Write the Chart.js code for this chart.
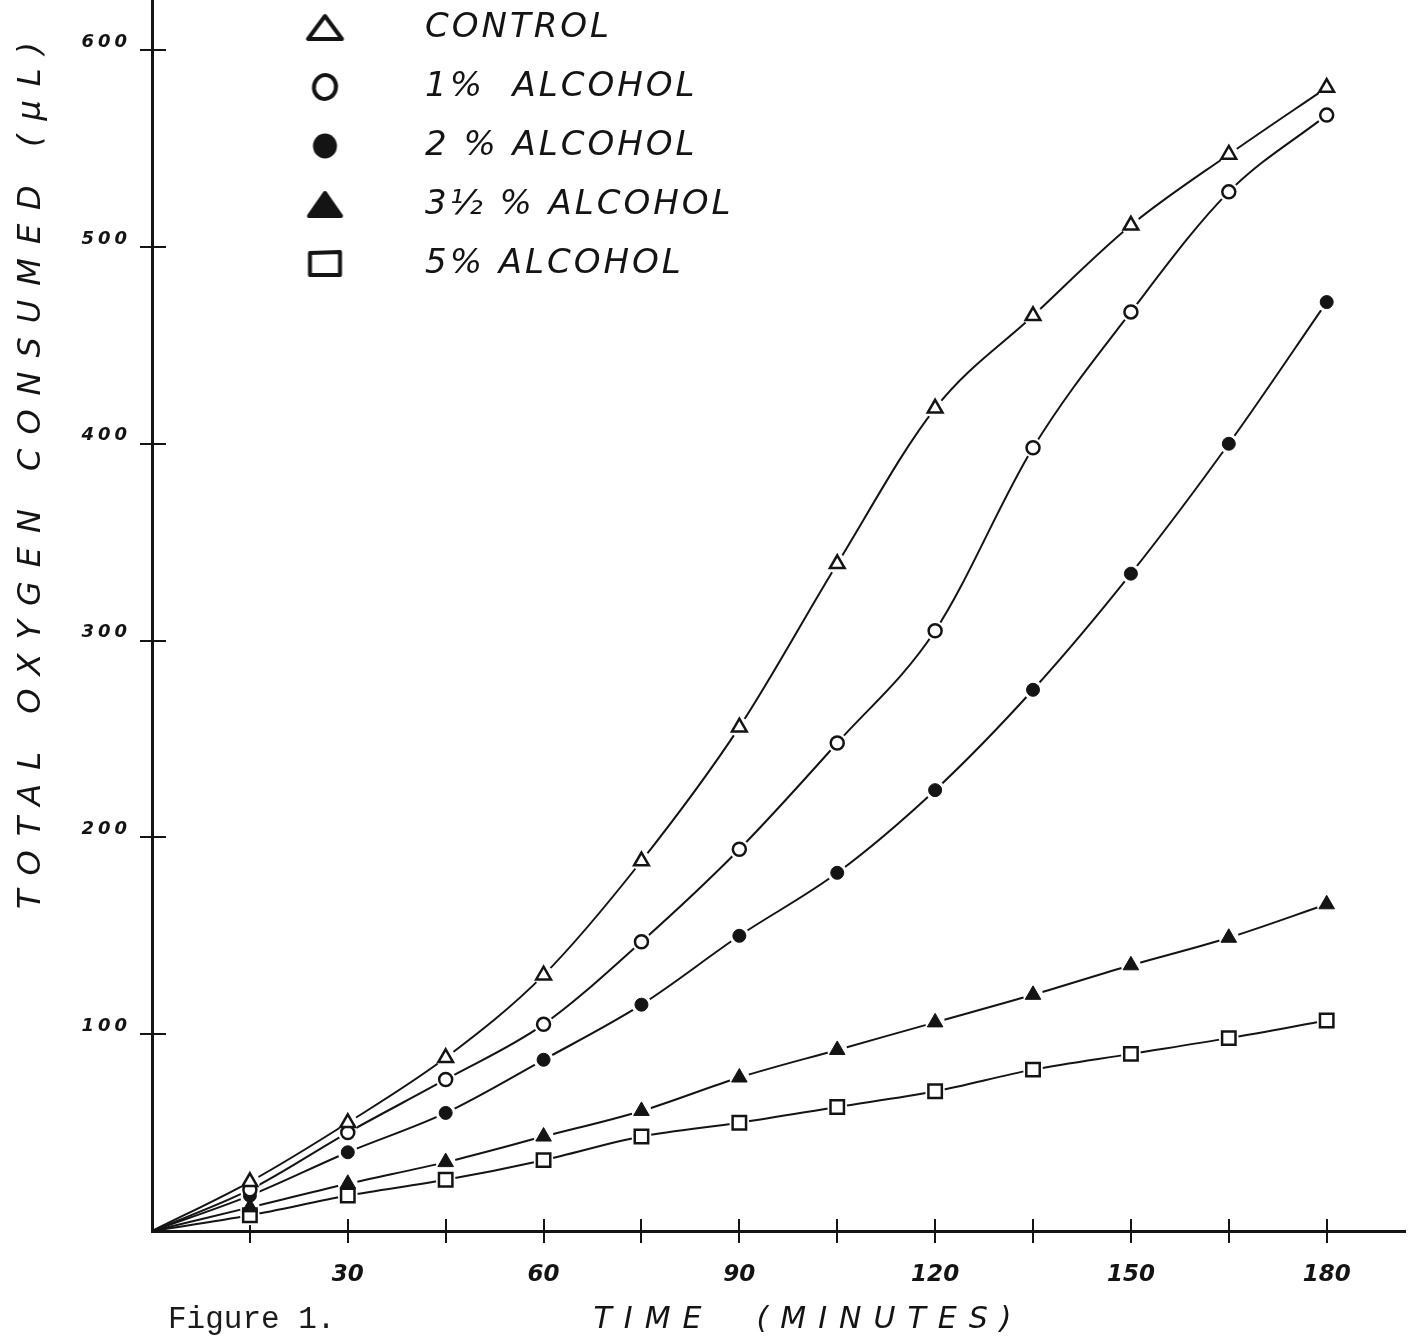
<!DOCTYPE html>
<html><head><meta charset="utf-8">
<script src="https://cdn.jsdelivr.net/npm/chart.js@4.4.1/dist/chart.umd.min.js"></script>
<style>
html,body{margin:0;padding:0;background:#fff;overflow:hidden;width:1415px;height:1340px;}
#wrap{position:relative;width:1415px;height:1340px;overflow:hidden;background:#fff;}
#c{position:absolute;left:0;top:-14px;}
#fig{position:absolute;left:168px;top:1303px;font-family:'Liberation Mono',monospace;font-size:31px;line-height:34px;color:#1a1a1a;white-space:pre;}
</style></head><body>
<div id="wrap"><canvas id="c" width="1415" height="1354"></canvas><div id="fig">Figure 1.</div></div>
<script>
// ---- data ----
const timeMinutes   = [0, 15, 30, 45, 60, 75, 90, 105, 120, 135, 150, 165, 180];
const control       = [0, 25, 55, 88, 130, 188, 256, 339, 418, 465, 511, 547, 581];
const alcohol1      = [0, 21, 50, 77, 105, 147, 194, 248, 305, 398, 467, 528, 567];
const alcohol2      = [0, 18, 40, 60, 87, 115, 150, 182, 224, 275, 334, 400, 472];
const alcohol3half  = [0, 12, 24, 35, 48, 61, 78, 92, 106, 120, 135, 149, 166];
const alcohol5      = [0, 8, 18, 26, 36, 48, 55, 63, 71, 82, 90, 98, 107];
const seriesLabels  = ['CONTROL', '1%  ALCOHOL', '2 % ALCOHOL', '3½ % ALCOHOL', '5% ALCOHOL'];
const yTickValues   = [100, 200, 300, 400, 500, 600];
const xTickMarks    = [15, 30, 45, 60, 75, 90, 105, 120, 135, 150, 165, 180];
const xTickLabels   = [30, 60, 90, 120, 150, 180];
const yTitle = 'TOTAL OXYGEN CONSUMED (μL)';
const xTitle = 'TIME  (MINUTES)';

const INK = '#141414';
const seriesData = [control, alcohol1, alcohol2, alcohol3half, alcohol5];
const markerStyle = [
  {style: 'triangle', r: 8.5, filled: false},
  {style: 'circle',   r: 6.5, filled: false},
  {style: 'circle',   r: 6.5, filled: true},
  {style: 'triangle', r: 9,   filled: true},
  {style: 'rect',     r: 9.5, filled: false}
];

const toXY = arr => arr.map((v, i) => ({x: timeMinutes[i], y: v}));

const datasets = [];
seriesData.forEach((arr, k) => {
  datasets.push({
    label: seriesLabels[k] + ' line',
    data: toXY(arr),
    borderColor: INK, borderWidth: 2, fill: false,
    cubicInterpolationMode: 'monotone',
    pointRadius: arr.map((v, i) => i === 0 ? 0 : 10),
    pointBackgroundColor: '#ffffff', pointBorderWidth: 0, pointBorderColor: 'rgba(0,0,0,0)',
    pointHoverRadius: 0, order: 2
  });
});
seriesData.forEach((arr, k) => {
  const m = markerStyle[k];
  datasets.push({
    label: seriesLabels[k],
    data: toXY(arr),
    showLine: false,
    pointStyle: m.style,
    pointRadius: arr.map((v, i) => i === 0 ? 0 : m.r),
    pointBackgroundColor: m.filled ? INK : '#ffffff',
    pointBorderColor: INK,
    pointBorderWidth: m.filled ? 1 : 2.5,
    pointHoverRadius: 0, order: 1
  });
});

// legend marker images (marker drawn offset to the right inside the image)
function legendMarker(k) {
  const c = document.createElement('canvas');
  c.width = 120; c.height = 50;
  const g = c.getContext('2d');
  const cx = 60 + 32.5, cy = 25;
  g.strokeStyle = INK; g.fillStyle = INK; g.lineWidth = 4; g.lineJoin = 'round'; g.lineCap = 'round';
  g.beginPath();
  if (k === 0) {
    g.moveTo(cx - 17, cy + 11); g.lineTo(cx + 17, cy + 11); g.lineTo(cx, cy - 12); g.closePath(); g.stroke();
  } else if (k === 1) {
    g.ellipse(cx, cy, 11, 12, 0.25, 0, Math.PI * 2); g.stroke();
  } else if (k === 2) {
    g.ellipse(cx, cy, 12, 12.5, 0, 0, Math.PI * 2); g.fill();
  } else if (k === 3) {
    g.moveTo(cx - 16, cy + 11); g.lineTo(cx + 16, cy + 11); g.lineTo(cx, cy - 12); g.closePath(); g.fill(); g.stroke();
  } else {
    g.moveTo(cx - 15, cy - 11); g.lineTo(cx + 15, cy - 12); g.lineTo(cx + 15, cy + 11); g.lineTo(cx - 15, cy + 11); g.closePath(); g.stroke();
  }
  return c;
}
const legendImages = seriesLabels.map((s, k) => legendMarker(k));

// letter spacing / offset wrapper for hand-lettered texts
const spacingPlugin = {
  id: 'spacing',
  beforeDraw(chart) {
    const wrap = (obj, name, ls, dx, dy) => {
      if (!obj || obj['__w_' + name]) return;
      const orig = obj[name];
      obj[name] = function (...args) {
        const ctx = chart.ctx;
        ctx.save();
        try { ctx.letterSpacing = ls; } catch (e) {}
        ctx.translate(dx || 0, dy || 0);
        const r = orig.apply(this, args);
        ctx.restore();
        return r;
      };
      obj['__w_' + name] = true;
    };
    wrap(chart.scales.y, 'drawTitle', '14px', 0, -140);
    wrap(chart.scales.y, 'drawLabels', '4px', 0, 0);
    wrap(chart.scales.x, 'drawTitle', '12px', 30, 0);
    wrap(chart.legend, 'draw', '3px', 0, 0);
  }
};

const FAM = "'DejaVu Sans', sans-serif";

new Chart(document.getElementById('c'), {
  type: 'line',
  data: {datasets},
  plugins: [spacingPlugin],
  options: {
    responsive: false, animation: false, events: [],
    layout: {autoPadding: false, padding: {left: 0, right: 10, top: 0, bottom: 0}},
    plugins: {
      tooltip: {enabled: false},
      legend: {
        position: 'chartArea', align: 'start',
        labels: {
          usePointStyle: true, pointStyleWidth: 231, padding: 25,
          color: INK,
          font: {family: FAM, size: 34, style: 'italic', weight: 'normal'},
          generateLabels: () => seriesLabels.map((t, k) => ({
            text: t, pointStyle: legendImages[k], fillStyle: INK, strokeStyle: INK,
            lineWidth: 0, hidden: false, datasetIndex: 5 + k, fontColor: INK
          }))
        }
      }
    },
    scales: {
      x: {
        type: 'linear', min: 0, max: 192,
        afterBuildTicks: s => { s.ticks = xTickMarks.map(v => ({value: v})); },
        afterFit: s => { s.height = 109; s.paddingLeft = 0; s.paddingRight = 0; },
        ticks: {
          autoSkip: false, maxRotation: 0, padding: 18, color: INK,
          font: {family: FAM, size: 23, style: 'italic', weight: 'bold'},
          callback: v => xTickLabels.includes(v) ? String(v) : ''
        },
        grid: {display: true, drawOnChartArea: true, drawTicks: true, tickLength: 12, color: INK, lineWidth: 2, tickWidth: 2},
        border: {display: true, color: INK, width: 3, dash: [0, 1233, 12, 3000]},
        title: {display: true, text: xTitle, color: INK, padding: {top: 0, bottom: 2},
          font: {family: FAM, size: 30, style: 'italic', weight: 'normal'}}
      },
      y: {
        type: 'linear', min: 0, max: 632.6,
        afterBuildTicks: s => { s.ticks = yTickValues.map(v => ({value: v})); },
        afterFit: s => { s.width = 152; s.paddingTop = 0; s.paddingBottom = 0; },
        ticks: {
          padding: 9, labelOffset: -8, color: INK,
          font: {family: FAM, size: 18, style: 'italic', weight: 'bold'},
          callback: v => String(v)
        },
        grid: {display: true, drawOnChartArea: true, drawTicks: true, tickLength: 12, color: INK, lineWidth: 2, tickWidth: 2},
        border: {display: true, color: INK, width: 3, dash: [12, 3000]},
        title: {display: true, text: yTitle, color: INK, padding: {top: 12, bottom: 0},
          font: {family: FAM, size: 32, style: 'italic', weight: 'normal'}}
      }
    }
  }
});
</script>
</body></html>
